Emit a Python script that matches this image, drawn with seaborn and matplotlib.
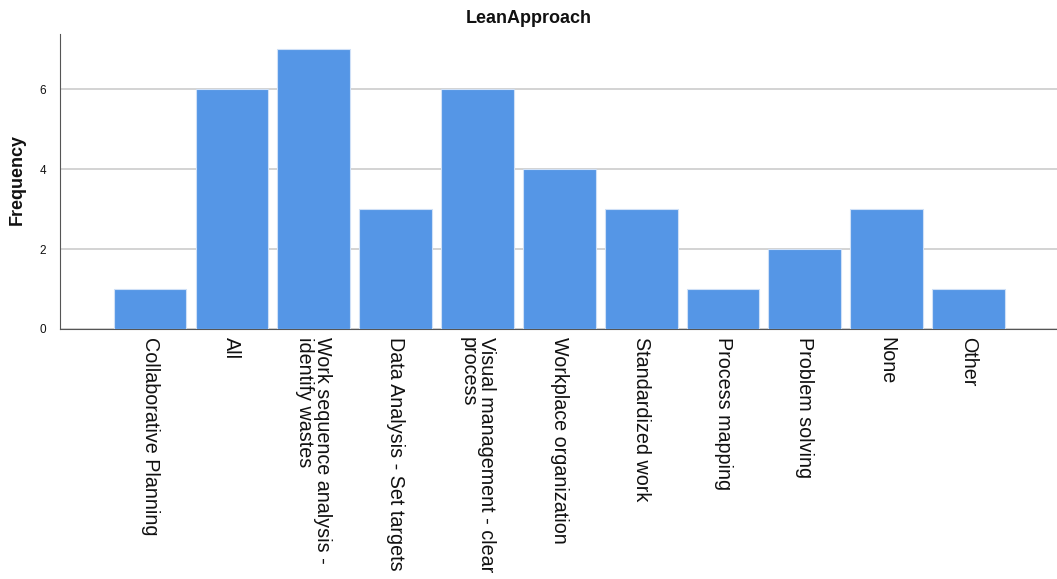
import matplotlib
matplotlib.use("Agg")
import matplotlib.pyplot as plt
import seaborn as sns
import pandas as pd

categories = [
    "Collaborative Planning",
    "All",
    "Work sequence analysis -\nidentify wastes",
    "Data Analysis - Set targets",
    "Visual management - clear\nprocess",
    "Workplace organization",
    "Standardized work",
    "Process mapping",
    "Problem solving",
    "None",
    "Other",
]
frequency = [1, 6, 7, 3, 6, 4, 3, 1, 2, 3, 1]

df = pd.DataFrame({"LeanApproach": categories, "Frequency": frequency})

sns.set_style("white")
plt.rcParams["font.family"] = ["Liberation Sans", "DejaVu Sans"]
plt.rcParams["text.color"] = "#111111"
plt.rcParams["xtick.color"] = "#111111"
plt.rcParams["ytick.color"] = "#111111"

fig = plt.figure(figsize=(10.57, 5.79), dpi=100)
ax = fig.add_axes([0.0568, 0.4318, 0.9432, 0.5092])

sns.barplot(data=df, x="LeanApproach", y="Frequency", color="#5596E6",
            saturation=1, width=0.89, edgecolor="#cfe0f7", linewidth=0.8,
            ax=ax, zorder=3)

ax.set_xlim(-1.1, 11.08)
ax.set_ylim(0, 7.38)
ax.set_yticks([0, 2, 4, 6])
ax.yaxis.grid(True, color="#cccccc", linewidth=1.2, zorder=0)
ax.set_axisbelow(True)

for side in ["top", "right"]:
    ax.spines[side].set_visible(False)
ax.spines["left"].set_color("#555555")
ax.spines["bottom"].set_color("#555555")

ax.tick_params(axis="y", labelsize=8.5, length=0, pad=10)
ax.tick_params(axis="x", length=0, pad=6)
ax.set_xticks(range(len(categories)))
ax.set_xticklabels(categories, rotation=270, fontsize=14.2, ha="center",
                   va="top", multialignment="left", linespacing=0.95)

ax.set_xlabel("")
ax.set_ylabel("")
fig.text(0.016, 0.69, "Frequency", rotation=90, fontsize=13,
         fontweight="bold", ha="center", va="center")
fig.suptitle("LeanApproach", x=0.5, y=0.968, fontsize=13,
             fontweight="bold", va="center")

fig.savefig("out.png", dpi=100)
